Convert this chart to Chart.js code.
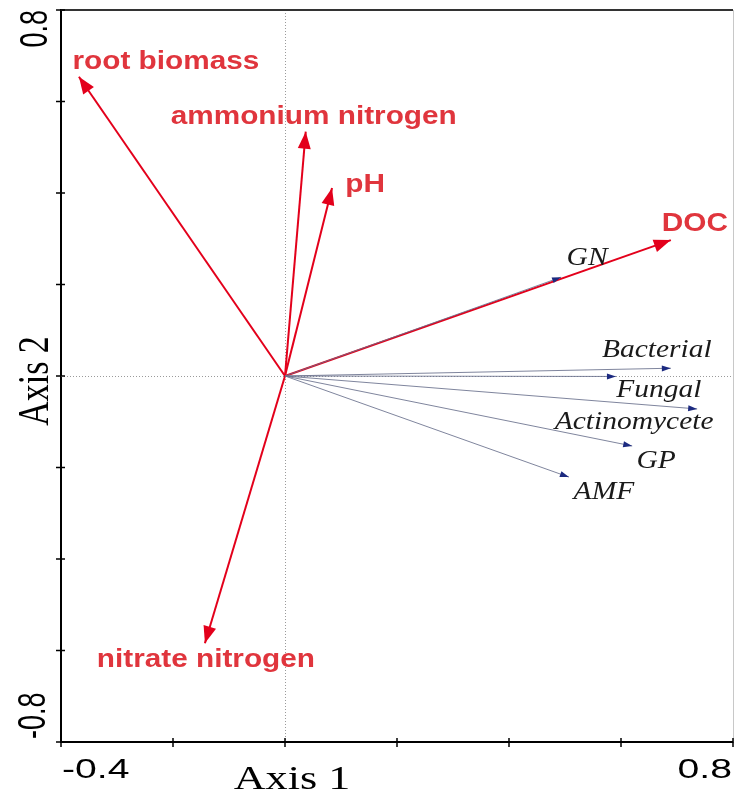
<!DOCTYPE html>
<html>
<head>
<meta charset="utf-8">
<script src="https://cdn.jsdelivr.net/npm/chart.js@4"></script>
<style>
  body { margin: 0; background: #fff; }
  canvas { display: block; }
</style>
</head>
<body>
<canvas id="rdaChart" width="734" height="795"></canvas>
<script>
// environmental factors (red vectors)
const envNames = ["root biomass", "ammonium nitrogen", "pH", "DOC", "nitrate nitrogen"];
const envX = [-0.368, 0.037, 0.084, 0.689, -0.143];
const envY = [0.654, 0.534, 0.411, 0.297, -0.584];

// microbial groups (blue vectors)
const groupNames = ["GN", "Bacterial", "Fungal", "Actinomycete", "GP", "AMF"];
const groupX = [0.493, 0.689, 0.591, 0.736, 0.62, 0.507];
const groupY = [0.216, 0.017, -0.001, -0.072, -0.153, -0.221];

const xTickLabels = ["-0.4", "0.8"];
const yTickLabels = ["0.8", "-0.8"];
const axisTitles = ["Axis 1", "Axis 2"];

// label placement relative to arrow tip (px)
const labelOffset = {
  "root biomass": [87, -15],
  "ammonium nitrogen": [8, -15],
  "pH": [33, -3],
  "DOC": [24, -16],
  "nitrate nitrogen": [1, 17],
  "GN": [26, -19],
  "Bacterial": [-14, -18],
  "Fungal": [43, 14],
  "Actinomycete": [-63, 13],
  "GP": [24, 15],
  "AMF": [35, 15]
};

const RED = "#e3001b";
const RED_TEXT = "#e0353d";
const BLUE_LINE = "rgba(105,112,140,0.85)";
const BLUE_HEAD = "#1c2a80";

function vectorDataset(name, x, y, kind) {
  return {
    label: name,
    kind: kind,
    data: [{ x: 0, y: 0 }, { x: x, y: y }],
    showLine: true,
    borderColor: kind === "env" ? RED : BLUE_LINE,
    borderWidth: kind === "env" ? 2 : 1,
    pointRadius: 0,
    fill: false
  };
}

const datasets = [];
groupNames.forEach((n, i) => datasets.push(vectorDataset(n, groupX[i], groupY[i], "group")));
envNames.forEach((n, i) => datasets.push(vectorDataset(n, envX[i], envY[i], "env")));

function drawText(ctx, text, x, y, font, color, sx, align, rotate) {
  ctx.save();
  ctx.translate(x, y);
  ctx.scale(sx, 1);
  if (rotate) ctx.rotate(-Math.PI / 2);
  ctx.font = font;
  ctx.fillStyle = color;
  ctx.textAlign = align || "center";
  ctx.textBaseline = "middle";
  ctx.fillText(text, 0, 0);
  ctx.restore();
}

const framePlugin = {
  id: "frame",
  beforeDatasetsDraw(chart) {
    const ctx = chart.ctx;
    const area = chart.chartArea;
    const xs = chart.scales.x, ys = chart.scales.y;
    const x0 = xs.getPixelForValue(0), y0 = ys.getPixelForValue(0);
    ctx.save();
    // dotted zero lines
    ctx.strokeStyle = "#9a9a9a";
    ctx.lineWidth = 1;
    ctx.setLineDash([1, 2]);
    ctx.beginPath();
    ctx.moveTo(Math.round(x0) + 0.5, area.top);
    ctx.lineTo(Math.round(x0) + 0.5, area.bottom);
    ctx.moveTo(area.left, Math.round(y0) + 0.5);
    ctx.lineTo(area.right, Math.round(y0) + 0.5);
    ctx.stroke();
    ctx.setLineDash([]);
    // top and right frame
    ctx.strokeStyle = "#333";
    ctx.lineWidth = 2;
    ctx.beginPath();
    ctx.moveTo(area.left, area.top);
    ctx.lineTo(area.right, area.top);
    ctx.stroke();
    ctx.strokeStyle = "#c8c8c8";
    ctx.lineWidth = 1;
    ctx.beginPath();
    ctx.moveTo(area.right + 0.5, area.top);
    ctx.lineTo(area.right + 0.5, area.bottom);
    ctx.stroke();
    // tick marks crossing the axis lines
    ctx.strokeStyle = "#000";
    ctx.lineWidth = 1.5;
    ctx.beginPath();
    xs.ticks.forEach(t => {
      const px = xs.getPixelForValue(t.value);
      ctx.moveTo(px, area.bottom - 4);
      ctx.lineTo(px, area.bottom + 5);
    });
    ys.ticks.forEach(t => {
      const py = ys.getPixelForValue(t.value);
      ctx.moveTo(area.left - 5, py);
      ctx.lineTo(area.left + 4, py);
    });
    ctx.stroke();
    ctx.restore();
  },
  afterDatasetsDraw(chart) {
    const ctx = chart.ctx;
    chart.data.datasets.forEach((ds, i) => {
      const pts = chart.getDatasetMeta(i).data;
      const a = pts[0], b = pts[1];
      const ang = Math.atan2(b.y - a.y, b.x - a.x);
      const env = ds.kind === "env";
      const len = env ? 17 : 9;
      const half = env ? 6.5 : 3;
      ctx.save();
      ctx.translate(b.x, b.y);
      ctx.rotate(ang);
      ctx.fillStyle = env ? RED : BLUE_HEAD;
      ctx.beginPath();
      ctx.moveTo(0, 0);
      ctx.lineTo(-len, -half);
      ctx.lineTo(-len, half);
      ctx.closePath();
      ctx.fill();
      ctx.restore();

      const off = labelOffset[ds.label] || [0, 0];
      if (env) {
        drawText(ctx, ds.label, b.x + off[0], b.y + off[1],
          "bold 25px 'Liberation Sans', Arial, sans-serif", RED_TEXT, 1.19);
      } else {
        drawText(ctx, ds.label, b.x + off[0], b.y + off[1],
          "italic 25px 'Liberation Serif', 'Times New Roman', serif", "#1a1a1a", 1.18);
      }
    });
  },
  afterDraw(chart) {
    const ctx = chart.ctx;
    const area = chart.chartArea;
    const xs = chart.scales.x, ys = chart.scales.y;
    const tickFont = "27px 'Liberation Sans', Arial, sans-serif";
    const titleFont = "34px 'Liberation Serif', 'Times New Roman', serif";
    // x tick labels at the axis ends
    drawText(ctx, xTickLabels[0], xs.getPixelForValue(xs.min) + 1, area.bottom + 29, tickFont, "#000", 1.45, "left");
    drawText(ctx, xTickLabels[1], xs.getPixelForValue(xs.max) - 1, area.bottom + 29, tickFont, "#000", 1.45, "right");
    // y tick labels, rotated
    drawText(ctx, yTickLabels[0], area.left - 25, ys.getPixelForValue(ys.max), tickFont, "#000", 1.45, "right", true);
    drawText(ctx, yTickLabels[1], area.left - 27, ys.getPixelForValue(ys.min) - 3, tickFont, "#000", 1.45, "left", true);
    // axis titles
    drawText(ctx, axisTitles[0], xs.getPixelForValue(0) + 7, area.bottom + 38, titleFont, "#000", 1.3);
    drawText(ctx, axisTitles[1], area.left - 25, ys.getPixelForValue(0) + 5, titleFont, "#000", 1.3, "center", true);
  }
};

const axisStyle = {
  grid: { drawOnChartArea: false, drawTicks: false, color: "#000", lineWidth: 1.5 },
  border: { display: true, color: "#000", width: 2 }
};

new Chart(document.getElementById("rdaChart"), {
  type: "scatter",
  data: { datasets: datasets },
  options: {
    responsive: false,
    animation: false,
    layout: { padding: { top: 10, right: 1, bottom: 0, left: 0 } },
    plugins: { legend: { display: false }, tooltip: { enabled: false } },
    scales: {
      x: Object.assign({
        type: "linear", min: -0.4, max: 0.8,
        ticks: { stepSize: 0.2, display: false },
        afterFit(s) { s.height = 53; }
      }, axisStyle),
      y: Object.assign({
        type: "linear", min: -0.8, max: 0.8,
        ticks: { stepSize: 0.2, display: false },
        afterFit(s) { s.width = 61; }
      }, axisStyle)
    }
  },
  plugins: [framePlugin]
});
</script>
</body>
</html>
